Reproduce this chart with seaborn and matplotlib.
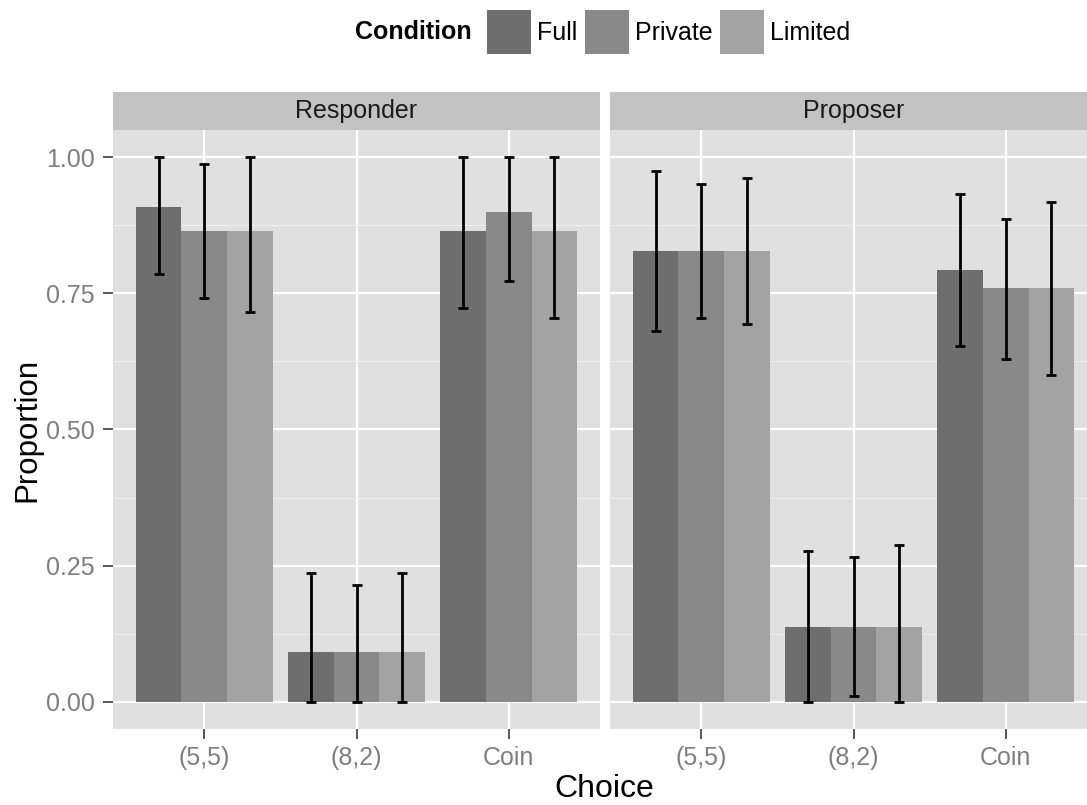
import matplotlib
matplotlib.use("Agg")
import pandas as pd
import matplotlib.pyplot as plt
import seaborn as sns
from matplotlib.patches import Patch
from matplotlib.ticker import FixedLocator

# === DATA ===

ROLES = ["Responder", "Proposer"]
CHOICES = ["(5,5)", "(8,2)", "Coin"]
CONDITIONS = ["Full", "Private", "Limited"]

# proportions, one list per condition, in CHOICES order
RESP_MEAN = {"Full": [0.909, 0.091, 0.864],
             "Private": [0.864, 0.091, 0.900],
             "Limited": [0.864, 0.091, 0.864]}
RESP_LOW = {"Full": [0.786, 0.0, 0.724],
            "Private": [0.741, 0.0, 0.772],
            "Limited": [0.716, 0.0, 0.705]}
RESP_HIGH = {"Full": [1.0, 0.237, 1.0],
             "Private": [0.987, 0.214, 1.0],
             "Limited": [1.0, 0.237, 1.0]}

PROP_MEAN = {"Full": [0.828, 0.138, 0.793],
             "Private": [0.828, 0.138, 0.759],
             "Limited": [0.828, 0.138, 0.759]}
PROP_LOW = {"Full": [0.680, 0.0, 0.653],
            "Private": [0.705, 0.010, 0.630],
            "Limited": [0.693, 0.0, 0.600]}
PROP_HIGH = {"Full": [0.974, 0.277, 0.933],
             "Private": [0.951, 0.266, 0.886],
             "Limited": [0.962, 0.287, 0.917]}

COLORS = ["#6E6E6E", "#898989", "#A3A3A3"]
PANEL_BG = "#E0E0E0"
STRIP_BG = "#C2C2C2"
TICK_GREY = "#7F7F7F"

plt.rcParams["font.family"] = ["Liberation Sans", "DejaVu Sans"]


def build_frame(mean, low, high):
    rows = []
    for cond in CONDITIONS:
        for i, ch in enumerate(CHOICES):
            rows.append({"Choice": ch, "Condition": cond, "Proportion": mean[cond][i],
                         "Low": low[cond][i], "High": high[cond][i]})
    return pd.DataFrame(rows)


FRAMES = {"Responder": build_frame(RESP_MEAN, RESP_LOW, RESP_HIGH),
          "Proposer": build_frame(PROP_MEAN, PROP_LOW, PROP_HIGH)}

W, H = 1087, 805
fig = plt.figure(figsize=(W / 100, H / 100), dpi=100)

PANEL_W = 487
PANEL_LEFTS = [113, 610]
PANEL_TOP, PANEL_BOTTOM = 130, 729
STRIP_TOP = 92

for k, role in enumerate(ROLES):
    left = PANEL_LEFTS[k]
    ax = fig.add_axes([left / W, (H - PANEL_BOTTOM) / H, PANEL_W / W, (PANEL_BOTTOM - PANEL_TOP) / H])
    df = FRAMES[role]
    sns.barplot(data=df, x="Choice", y="Proportion", hue="Condition",
                order=CHOICES, hue_order=CONDITIONS, palette=COLORS,
                width=0.9, errorbar=None, saturation=1, linewidth=0,
                legend=False, ax=ax, zorder=2)

    # error bars placed at the bar centres computed by seaborn
    for cond, cont in zip(CONDITIONS, ax.containers):
        sub = df[df["Condition"] == cond].set_index("Choice").loc[CHOICES]
        xs = [p.get_x() + p.get_width() / 2 for p in cont.patches]
        ys = sub["Proportion"].values
        ax.errorbar(xs, ys, yerr=[ys - sub["Low"].values, sub["High"].values - ys],
                    fmt="none", ecolor="black", elinewidth=2.0, capsize=3.6,
                    capthick=2.0, zorder=3)

    ax.set_xlim(-0.6, 2.6)
    ax.set_ylim(-0.05, 1.05)
    ax.set_facecolor(PANEL_BG)
    for s in ax.spines.values():
        s.set_visible(False)
    ax.yaxis.set_major_locator(FixedLocator([0, 0.25, 0.5, 0.75, 1.0]))
    ax.yaxis.set_minor_locator(FixedLocator([0.125, 0.375, 0.625, 0.875]))
    ax.set_axisbelow(True)
    ax.grid(True, which="major", color="white", linewidth=1.6)
    ax.grid(True, which="minor", axis="y", color="#EEEEEE", linewidth=0.8)
    ax.set_xlabel("")
    ax.set_ylabel("")
    ax.tick_params(axis="x", length=7, width=1.4, color="#555555", pad=5,
                   labelsize=18, labelcolor=TICK_GREY)
    ax.tick_params(axis="y", which="minor", length=0)
    if k == 0:
        ax.set_yticklabels(["0.00", "0.25", "0.50", "0.75", "1.00"])
        ax.tick_params(axis="y", which="major", length=7, width=1.4, color="#555555",
                       pad=6, labelsize=18, labelcolor=TICK_GREY)
    else:
        ax.tick_params(axis="y", which="major", length=0, labelleft=False)

    # facet strip
    sax = fig.add_axes([left / W, (H - PANEL_TOP) / H, PANEL_W / W, (PANEL_TOP - STRIP_TOP) / H])
    sax.set_facecolor(STRIP_BG)
    sax.set_xticks([])
    sax.set_yticks([])
    for s in sax.spines.values():
        s.set_visible(False)
    sax.text(0.5, 0.5, role, ha="center", va="center", fontsize=18,
             color="#1A1A1A", transform=sax.transAxes)

fig.text(604 / W, 1 - 789 / H, "Choice", ha="center", va="center", fontsize=23)
fig.text(27 / W, 1 - 430 / H, "Proportion", ha="center", va="center", fontsize=22.5,
         rotation=90)

# legend on top
fig.text(472 / W, 1 - 32 / H, "Condition", ha="right", va="center", fontsize=18,
         fontweight="bold")
handles = [Patch(facecolor=c, edgecolor="none") for c in COLORS]
fig.legend(handles, CONDITIONS, loc="center left", bbox_to_anchor=(487 / W, 1 - 32 / H),
           ncol=3, frameon=False, fontsize=18, borderpad=0, borderaxespad=0,
           handlelength=1.75, handleheight=2.33, handletextpad=0.25,
           columnspacing=0.3)

fig.savefig("out.png", dpi=100, facecolor="white")
